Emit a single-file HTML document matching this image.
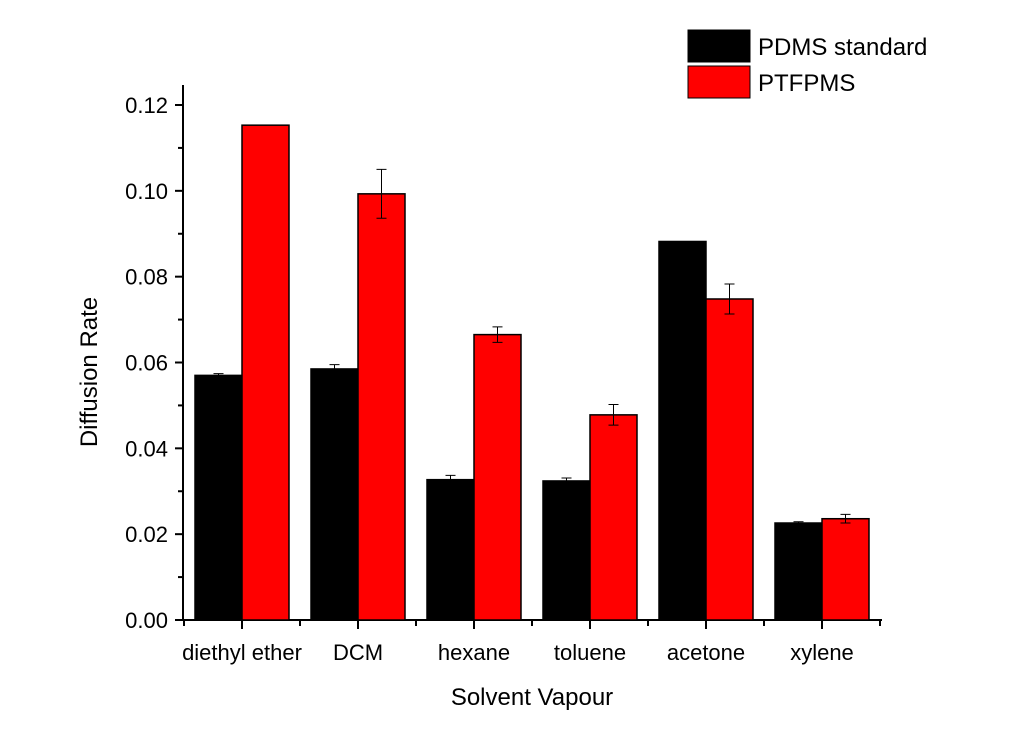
<!DOCTYPE html>
<html><head><meta charset="utf-8"><style>
body{margin:0;background:#fff}
svg text{font-family:"Liberation Sans",Arial,sans-serif;fill:#000}
</style></head><body>
<svg id="chart" width="1024" height="744" xmlns="http://www.w3.org/2000/svg">
<g id="axes"></g><g id="bars"></g>
<g>
<rect x="688" y="30" width="62" height="32" fill="#000" stroke="#000"/>
<text x="758" y="55" font-size="24">PDMS standard</text>
<rect x="688" y="66" width="62" height="32" fill="#f00" stroke="#000"/>
<text x="758" y="91" font-size="24">PTFPMS</text>
</g>
<text transform="translate(97,372) rotate(-90)" text-anchor="middle" font-size="24">Diffusion Rate</text>
<text x="532" y="705" text-anchor="middle" font-size="24">Solvent Vapour</text>
</svg>
<script>
const categories=["diethyl ether","DCM","hexane","toluene","acetone","xylene"];
const pdms=[0.0570,0.0585,0.0327,0.0324,0.0882,0.0226];
const pdmsErr=[0.0004,0.0010,0.0010,0.0007,0.0000,0.0003];
const ptfpms=[0.1153,0.0993,0.0665,0.0478,0.0748,0.0236];
const ptfpmsErr=[0.0000,0.0057,0.0018,0.0024,0.0035,0.0010];
const yTicks=[0,0.02,0.04,0.06,0.08,0.10,0.12];
const yTickLabels=["0.00","0.02","0.04","0.06","0.08","0.10","0.12"];
const NS="http://www.w3.org/2000/svg";
const y0=620,yPer=(620-105)/0.12;
const Y=v=>y0-v*yPer;
const X=i=>242+116*i;
const bw=47;
function mk(tag,attrs,parent){const e=document.createElementNS(NS,tag);for(const k in attrs)e.setAttribute(k,attrs[k]);parent.appendChild(e);return e;}
const ax=document.getElementById('axes'),bars=document.getElementById('bars');
function drawBar(cx,v,err,color,name){
  const r=mk('rect',{x:cx,y:Y(v),width:bw,height:y0-Y(v),fill:color,stroke:'#000','stroke-width':1.5},bars);
  
  
  if(err>0){
    const g=mk('path',{d:`M${cx+bw/2-5},${Y(v+err)}h10M${cx+bw/2},${Y(v+err)}V${Y(v-err)}M${cx+bw/2-5},${Y(v-err)}h10`,stroke:'#000','stroke-width':1,fill:'none'},bars);
    
    
  }
}
categories.forEach((c,i)=>{
  drawBar(X(i)-bw,pdms[i],pdmsErr[i],'#000','bar-pdms-'+i);
  drawBar(X(i),ptfpms[i],ptfpmsErr[i],'#f00','bar-ptfpms-'+i);
  const t=mk('text',{x:X(i),y:660,'text-anchor':'middle','font-size':22},ax);
  t.textContent=c;
  
  
  mk('line',{x1:X(i),x2:X(i),y1:y0,y2:y0+9,stroke:'#000','stroke-width':2},ax);
  mk('line',{x1:X(i)+58,x2:X(i)+58,y1:y0,y2:y0+6,stroke:'#000','stroke-width':2},ax);
});
mk('line',{x1:184,x2:184,y1:y0,y2:y0+6,stroke:'#000','stroke-width':2},ax);
const yl=mk('line',{x1:183,x2:183,y1:y0+1,y2:85,stroke:'#000','stroke-width':2},ax);

const xl=mk('line',{x1:182,x2:882,y1:y0,y2:y0,stroke:'#000','stroke-width':2},ax);

yTicks.forEach((v,i)=>{
  mk('line',{x1:175,x2:183,y1:Y(v),y2:Y(v),stroke:'#000','stroke-width':2},ax);
  if(i<yTicks.length-1){const m=(v+yTicks[i+1])/2;mk('line',{x1:178,x2:183,y1:Y(m),y2:Y(m),stroke:'#000','stroke-width':2},ax);}
  const t=mk('text',{x:168,y:Y(v)+8,'text-anchor':'end','font-size':22},ax);
  t.textContent=yTickLabels[i];
  
  
});
</script>
</body></html>
